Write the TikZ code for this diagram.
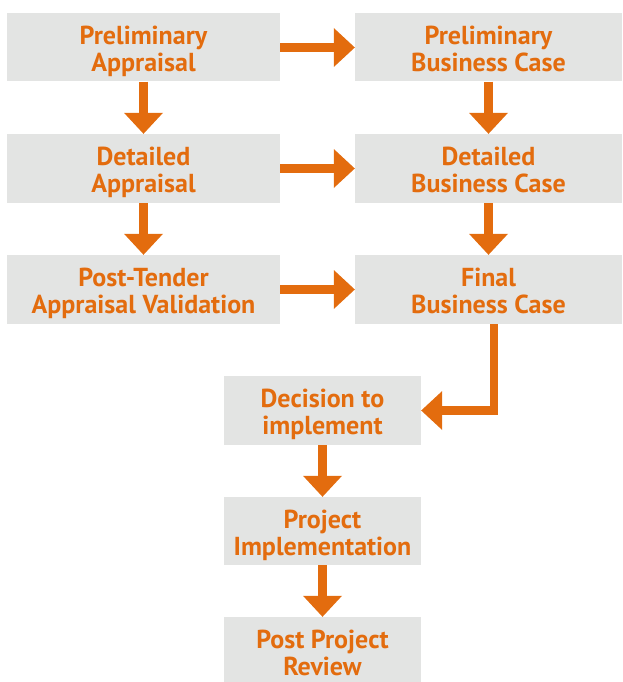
\documentclass[tikz,border=0pt]{standalone}
\usepackage{fontspec}
\setmainfont{PT Sans}
\usetikzlibrary{arrows.meta}
\definecolor{orng}{RGB}{227,108,14}
\definecolor{boxgray}{RGB}{227,228,227}
\newcommand\topS{\rule{0pt}{28pt}}
\newcommand\botS{\rule[-7pt]{0pt}{7pt}}
\tikzset{
  box/.style={fill=boxgray, draw=none, inner sep=0pt, align=center, text=orng,
    font=\bfseries\fontsize{26}{27}\selectfont},
  flow/.style={draw=orng, line width=8.5pt,
    -{Triangle[width=39pt,length=21pt,line width=0pt]}}
}
\begin{document}
\begin{tikzpicture}[x=1pt,y=-1pt]
\useasboundingbox (0,0) rectangle (622,682);
\begin{scope}
\clip (0,0) rectangle (622,682);
\node[box, minimum width=273pt, minimum height=68pt] (pa)  at (143.5,47.5) {\topS Preliminary\\Appraisal\botS};
\node[box, minimum width=267pt, minimum height=68pt] (pbc) at (488.5,47.5) {\topS Preliminary\\Business Case\botS};
\node[box, minimum width=273pt, minimum height=69pt] (da)  at (143.5,168.5) {\topS Detailed\\Appraisal\botS};
\node[box, minimum width=267pt, minimum height=69pt] (dbc) at (488.5,168.5) {\topS Detailed\\Business Case\botS};
\node[box, minimum width=273pt, minimum height=69pt] (pta) at (143.5,289.5) {\topS Post-Tender\\Appraisal Validation\botS};
\node[box, minimum width=267pt, minimum height=69pt] (fbc) at (488.5,289.5) {\topS Final\\Business Case\botS};
\node[box, minimum width=197pt, minimum height=69pt] (dec) at (322.5,410.5) {\topS Decision to\\implement\botS};
\node[box, minimum width=197pt, minimum height=68pt] (pi)  at (322.5,531) {\topS Project\\Implementation\botS};
\node[box, minimum width=197pt, minimum height=68pt] (ppr) at (322.5,651) {\topS Post Project\\Review\botS};
\end{scope}
\draw[flow] (pa.east) -- (pbc.west);
\draw[flow] (da.east) -- (dbc.west);
\draw[flow] (pta.east) -- (fbc.west);
\draw[flow] (pa.south) -- (da.north);
\draw[flow] (da.south) -- (pta.north);
\draw[flow] (pbc.south) -- (dbc.north);
\draw[flow] (dbc.south) -- (fbc.north);
\draw[flow] ([xshift=5.5pt]fbc.south) |- (dec.east);
\draw[flow] (dec.south) -- (pi.north);
\draw[flow] (pi.south) -- (ppr.north);
\end{tikzpicture}
\end{document}
